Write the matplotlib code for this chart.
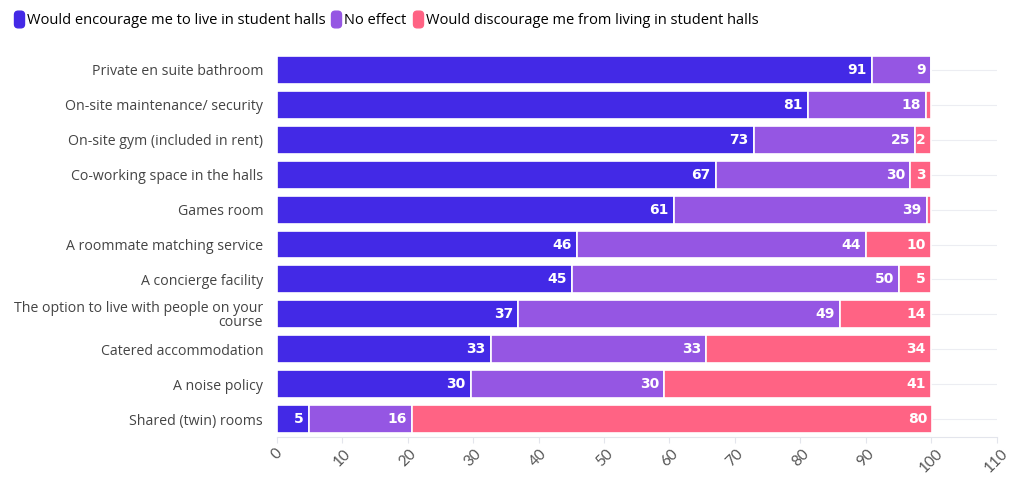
import matplotlib.pyplot as plt
from matplotlib.lines import Line2D
from matplotlib.patches import FancyBboxPatch

categories = [
    "Private en suite bathroom",
    "On-site maintenance/ security",
    "On-site gym (included in rent)",
    "Co-working space in the halls",
    "Games room",
    "A roommate matching service",
    "A concierge facility",
    "The option to live with people on your\ncourse",
    "Catered accommodation",
    "A noise policy",
    "Shared (twin) rooms",
]
encourage = [91.0, 81.2, 72.9, 67.1, 60.7, 45.9, 45.1, 36.9, 32.7, 29.6, 4.9]
no_effect = [9.0, 18.0, 24.7, 29.7, 38.6, 44.2, 50.0, 49.2, 32.9, 29.6, 15.7]
discourage = [0.0, 0.8, 2.4, 3.2, 0.7, 9.9, 4.9, 13.9, 34.4, 40.8, 79.6]
series_names = ["Would encourage me to live in student halls", "No effect",
                "Would discourage me from living in student halls"]
colors = ["#4329E6", "#9556E3", "#FF6384"]
xticks = list(range(0, 111, 10))

fig = plt.figure(figsize=(10.2, 4.9), dpi=100)
ax = fig.add_axes([0.2716, 0.109, 0.7054, 0.784])

y = list(range(len(categories)))
left = [0.0] * len(categories)
for vals, col in zip([encourage, no_effect, discourage], colors):
    ax.barh(y, vals, left=left, height=0.8, color=col, edgecolor="white",
            linewidth=1.2, zorder=3)
    for i, v in enumerate(vals):
        if round(v) >= 2:
            ax.text(left[i] + v - 0.8, i, str(round(v)), ha="right", va="center",
                    color="white", fontsize=10, fontweight="bold",
                    family="DejaVu Sans", zorder=4)
    left = [l + v for l, v in zip(left, vals)]

for i in y:
    ax.axhline(i, color="#ECEDF2", linewidth=0.8, zorder=1)

ax.set_xlim(0, 110)
ax.set_ylim(len(categories) - 0.5, -0.5)
ax.set_yticks(y)
ax.set_yticklabels(categories, fontsize=10.2, color="#444444", family="Open Sans",
                   linespacing=0.9)
ax.set_xticks(xticks)
ax.set_xticklabels([str(t) for t in xticks], rotation=45, fontsize=11,
                   color="#555555", family="Lato", ha="center", va="top")
ax.tick_params(axis="y", length=0, pad=10)
ax.tick_params(axis="x", length=4, color="#E3E5EC", pad=3)
for s in ["top", "right", "left"]:
    ax.spines[s].set_visible(False)
ax.spines["bottom"].set_color("#E3E5EC")

# rounded, slightly tall legend markers
box = FancyBboxPatch((-0.3, -0.5), 0.6, 1.0,
                     boxstyle="round,pad=0,rounding_size=0.22")
marker_path = box.get_path()
handles = [Line2D([], [], marker=marker_path, linestyle="none", markersize=12,
                  markerfacecolor=c, markeredgecolor=c) for c in colors]
fig.legend(handles, series_names, loc="upper left", bbox_to_anchor=(0.002, 1.0),
           ncol=3, frameon=False, handlelength=0.5, handletextpad=0.3,
           columnspacing=0.5, prop={"family": "Open Sans", "size": 10.5})

fig.savefig("out.png", dpi=100)
